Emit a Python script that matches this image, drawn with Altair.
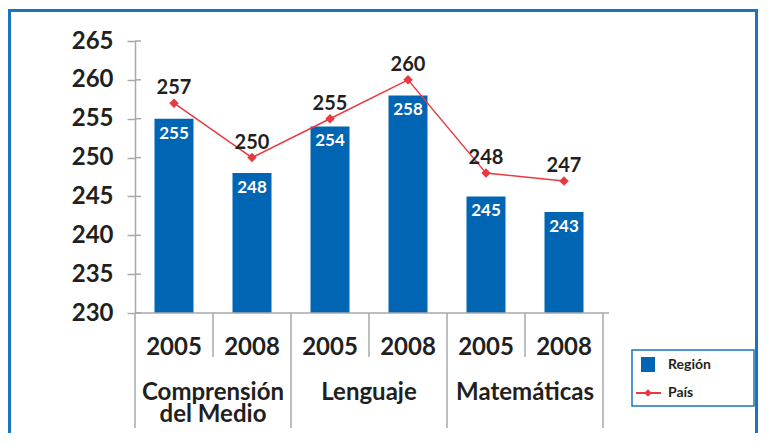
import altair as alt
import pandas as pd

subjects = ["Comprensión\ndel Medio", "Lenguaje", "Matemáticas"]
years = ["2005", "2008"]
region = [255, 248, 254, 258, 245, 243]
pais = [257, 250, 255, 260, 248, 247]
y_ticks = [230, 235, 240, 245, 250, 255, 260, 265]

cats, yrs, subj = [], [], []
for s in subjects:
    for y in years:
        cats.append(s + "|" + y)
        yrs.append(y)
        subj.append(s)

df = pd.DataFrame({"cat": cats, "year": yrs, "subject": subj,
                   "region": region, "pais": pais})
groups = pd.DataFrame({"cat": [s + "|2005" for s in subjects], "subject": subjects})
ticks_df = pd.DataFrame({"v": y_ticks})

W, H = 468, 272
BLUE = "#0066b3"
RED = "#e83a40"
DARK = "#231f20"
GRAY = "#a7a9ac"
FONT = "Lato"

xscale = alt.Scale(domain=cats, paddingInner=0, paddingOuter=0)
yscale = alt.Scale(domain=[230, 265], nice=False, zero=False)
yaxis = alt.Axis(values=y_ticks, title=None, grid=False, domainColor=GRAY,
                 tickColor=GRAY, tickSize=8, labelPadding=14,
                 labelOverlap=False, labelBound=False, labelFlush=False,
                 labelFont=FONT, labelFontSize=24, labelFontWeight="bold",
                 labelColor=DARK, domainWidth=1.5, tickWidth=1.5)


def X(**kw):
    return alt.X("cat:N", scale=xscale, sort=cats, axis=None, **kw)


def Y(field):
    return alt.Y(field, scale=yscale, axis=yaxis)


base = alt.Chart(df)

bars = base.mark_bar(color=BLUE, width=alt.RelativeBandSize(0.5)).encode(
    x=X(), y=Y("region:Q"), y2=alt.datum(230),
)

bar_labels = base.mark_text(color="white", font=FONT, fontSize=17, fontWeight="bold",
                            baseline="alphabetic", dy=20).encode(
    x=X(), y=Y("region:Q"), text="region:Q",
)

line = base.mark_line(color=RED, strokeWidth=1.5).encode(x=X(), y=Y("pais:Q"))
pts = base.mark_point(shape="diamond", filled=True, color=RED, size=90, opacity=1).encode(
    x=X(), y=Y("pais:Q"),
)
pt_labels = base.mark_text(color=DARK, font=FONT, fontSize=20, fontWeight="bold",
                           baseline="alphabetic", dy=-9).encode(
    x=X(), y=Y("pais:Q"), text="pais:Q",
)

# cross part of y ticks (right of axis)
tick_right = alt.Chart(ticks_df).mark_rule(color=GRAY, strokeWidth=1.5).encode(
    y=Y("v:Q"), x=alt.value(0), x2=alt.value(6),
)

# x axis baseline
x_base = alt.Chart(ticks_df.head(1)).mark_rule(color=GRAY, strokeWidth=1.5).encode(
    y=alt.value(H), x=alt.value(0), x2=alt.value(W + 6),
)

# year labels
year_text = base.mark_text(color=DARK, font=FONT, fontSize=24, fontWeight="bold",
                           baseline="middle").encode(
    x=X(), y=alt.value(H + 35), text="year:N",
)

# year separators (short) at band start of 2008 categories
sep_short = alt.Chart(df[df.year == "2008"]).mark_rule(color=GRAY, strokeWidth=1.5).encode(
    x=X(bandPosition=0), y=alt.value(H), y2=alt.value(H + 44),
)
# group separators (long) at band start of 2005 categories and end of last
sep_long = alt.Chart(df[df.year == "2005"]).mark_rule(color=GRAY, strokeWidth=1.5).encode(
    x=X(bandPosition=0), y=alt.value(H), y2=alt.value(H + 115),
)
sep_end = alt.Chart(df.tail(1)).mark_rule(color=GRAY, strokeWidth=1.5).encode(
    x=X(bandPosition=1), y=alt.value(H), y2=alt.value(H + 115),
)

group_text = alt.Chart(groups).mark_text(color=DARK, font=FONT, fontSize=24,
                                          fontWeight="bold", baseline="middle",
                                          lineBreak="\n", lineHeight=22).encode(
    x=X(bandPosition=1), y=alt.value(H + 80), text="subject:N",
)

# manual legend
leg = pd.DataFrame({"label": ["Región", "País"]})
leg_box = alt.Chart(leg.head(1)).mark_rect(fill="white", stroke="#1b75bc", strokeWidth=1.5).encode(
    x=alt.value(497), x2=alt.value(619), y=alt.value(309), y2=alt.value(365),
)
leg_sq = alt.Chart(leg.head(1)).mark_rect(color=BLUE).encode(
    x=alt.value(506), x2=alt.value(520), y=alt.value(316), y2=alt.value(331),
)
leg_line = alt.Chart(leg.head(1)).mark_rule(color=RED, strokeWidth=2).encode(
    x=alt.value(501), x2=alt.value(526), y=alt.value(352),
)
leg_pt = alt.Chart(leg.head(1)).mark_point(shape="diamond", filled=True, color=RED,
                                           size=60, opacity=1).encode(
    x=alt.value(513), y=alt.value(352),
)
leg_t1 = alt.Chart(leg.head(1)).mark_text(color=DARK, font=FONT, fontSize=14,
                                          fontWeight="bold", align="left",
                                          baseline="middle").encode(
    x=alt.value(533), y=alt.value(324), text="label:N",
)
leg_t2 = alt.Chart(leg.tail(1)).mark_text(color=DARK, font=FONT, fontSize=14,
                                          fontWeight="bold", align="left",
                                          baseline="middle").encode(
    x=alt.value(533), y=alt.value(352), text="label:N",
)

# outer frame
frame = alt.Chart(leg.head(1)).mark_rect(fill=None, stroke="#1b75bc", strokeWidth=3).encode(
    x=alt.value(-125.5), x2=alt.value(621.5), y=alt.value(-30.5), y2=alt.value(450),
)

chart = alt.layer(
    frame, bars, bar_labels, line, pts, pt_labels, tick_right, x_base,
    year_text, sep_short, sep_long, sep_end, group_text,
    leg_box, leg_sq, leg_line, leg_pt, leg_t1, leg_t2,
).properties(
    width=W, height=H,
    autosize=alt.AutoSizeParams(type="none"),
    padding={"left": 127, "top": 33, "right": 155, "bottom": 120},
).configure(background="white").configure_view(stroke=None)

chart.save("out.html", embed_options={"renderer": "svg", "actions": False})
